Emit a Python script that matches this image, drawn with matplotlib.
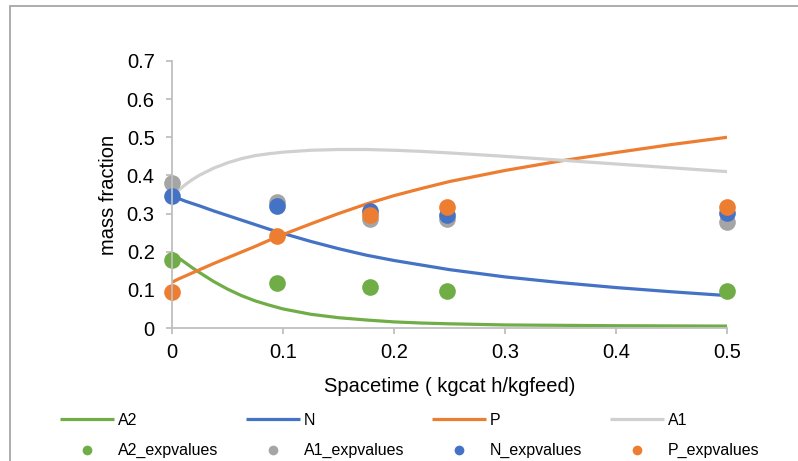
import matplotlib.pyplot as plt
from matplotlib.lines import Line2D
from matplotlib.patches import Rectangle

plt.rcParams['font.family'] = ['Liberation Sans', 'DejaVu Sans']

# model curves (mass fraction vs spacetime)
x_model = [0, 0.00625, 0.0125, 0.01875, 0.025, 0.0375, 0.05, 0.0625, 0.075, 0.0875,
           0.1, 0.125, 0.15, 0.175, 0.2, 0.225, 0.25, 0.3, 0.35, 0.4, 0.45, 0.5]
a2_model = [0.197, 0.183, 0.17, 0.157, 0.145, 0.122, 0.102, 0.085, 0.071, 0.06,
            0.05, 0.036, 0.027, 0.021, 0.016, 0.013, 0.011, 0.008, 0.007, 0.006,
            0.0055, 0.005]
n_model = [0.345, 0.339, 0.332, 0.326, 0.32, 0.307, 0.295, 0.283, 0.271, 0.259,
           0.248, 0.227, 0.208, 0.191, 0.177, 0.165, 0.153, 0.134, 0.119, 0.106,
           0.095, 0.085]
p_model = [0.12, 0.129, 0.137, 0.145, 0.153, 0.169, 0.184, 0.199, 0.214, 0.230,
           0.245, 0.273, 0.30, 0.325, 0.347, 0.366, 0.384, 0.413, 0.438, 0.46,
           0.481, 0.50]
a1_model = [0.345, 0.362, 0.377, 0.39, 0.401, 0.419, 0.433, 0.444, 0.452, 0.457,
            0.461, 0.466, 0.468, 0.468, 0.466, 0.463, 0.459, 0.450, 0.44, 0.43,
            0.42, 0.41]

# experimental values
x_exp = [0, 0.095, 0.178, 0.248, 0.5]
a2_exp = [0.177, 0.117, 0.108, 0.097, 0.097]
a1_exp = [0.381, 0.330, 0.287, 0.286, 0.279]
n_exp = [0.346, 0.320, 0.308, 0.296, 0.302]
p_exp = [0.095, 0.240, 0.295, 0.317, 0.317]

green = '#70AD47'
blue = '#4472C4'
orange = '#ED7D31'
gray_line = '#D0D0D0'
gray_dot = '#A5A5A5'
axis_gray = '#BFBFBF'

fig = plt.figure(figsize=(7.98, 4.61), dpi=100)
ax = fig.add_axes([172 / 798, 1 - 328 / 461, 555 / 798, 267 / 461])

lw = 2.3
ax.plot(x_model, a2_model, color=green, lw=lw, solid_capstyle='butt', label='A2')
ax.plot(x_model, n_model, color=blue, lw=lw, solid_capstyle='butt', label='N')
ax.plot(x_model, p_model, color=orange, lw=lw, solid_capstyle='butt', label='P')
ax.plot(x_model, a1_model, color=gray_line, lw=lw, solid_capstyle='butt', label='A1')

ms = 12
ax.plot(x_exp, a2_exp, 'o', color=green, ms=ms, mec='none', clip_on=False)
ax.plot(x_exp, a1_exp, 'o', color=gray_dot, ms=ms, mec='none', clip_on=False)
ax.plot(x_exp, n_exp, 'o', color=blue, ms=ms, mec='none', clip_on=False)
ax.plot(x_exp, p_exp, 'o', color=orange, ms=ms, mec='none', clip_on=False)

ax.set_xlim(0, 0.5)
ax.set_ylim(0, 0.7)
ax.set_xticks([0, 0.1, 0.2, 0.3, 0.4, 0.5])
ax.set_xticklabels(['0', '0.1', '0.2', '0.3', '0.4', '0.5'])
ax.set_yticks([0, 0.1, 0.2, 0.3, 0.4, 0.5, 0.6, 0.7])
ax.set_yticklabels(['0', '0.1', '0.2', '0.3', '0.4', '0.5', '0.6', '0.7'])

for side in ['top', 'right']:
    ax.spines[side].set_visible(False)
for side in ['left', 'bottom']:
    ax.spines[side].set_color(axis_gray)
    ax.spines[side].set_linewidth(1.3)

ax.tick_params(axis='both', direction='out', color=axis_gray, width=1.3,
               length=4, labelsize=14.5, labelcolor='#000000')
ax.tick_params(axis='y', pad=8.5)
ax.tick_params(axis='x', pad=7)

ax.set_xlabel('Spacetime ( kgcat h/kgfeed)', fontsize=14.5)
ax.set_ylabel('mass fraction', fontsize=14.5)
ax.xaxis.set_label_coords(0.5, -0.183)
ax.yaxis.set_label_coords(-0.098, 0.5)

# legend: row 1 lines, row 2 markers (matplotlib fills columns first)
line_h = [Line2D([], [], color=c, lw=2.3, solid_capstyle='butt')
          for c in [green, blue, orange, gray_line]]
dot_h = [Line2D([], [], ls='none', marker='o', ms=7, mec='none', color=c)
         for c in [green, gray_dot, blue, orange]]
line_lab = ['A2', 'N', 'P', 'A1']
dot_lab = ['A2_expvalues', 'A1_expvalues', 'N_expvalues', 'P_expvalues']
handles, labels = [], []
for i in range(4):
    handles += [line_h[i], dot_h[i]]
    labels += [line_lab[i], dot_lab[i]]
fig.legend(handles, labels, ncol=4, loc='upper left',
           bbox_to_anchor=(60 / 798, 1 - 413 / 461), frameon=False,
           fontsize=11.5, handlelength=3.4, handletextpad=0.25,
           columnspacing=1.7, labelspacing=0.95, borderpad=0, borderaxespad=0)

# chart area border
fig.patches.append(Rectangle((10 / 798, -0.2), 1.2, 0.2 + 1 - 6 / 461,
                             transform=fig.transFigure, fill=False,
                             edgecolor='#A6A6A6', lw=1.3))

fig.savefig('out.png', dpi=100)
